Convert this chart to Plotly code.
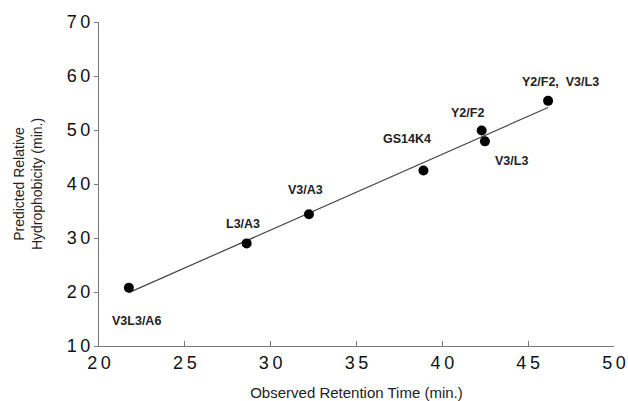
import numpy as np
import plotly.graph_objects as go

# Data
peptides = ["V3L3/A6", "L3/A3", "V3/A3", "GS14K4", "Y2/F2", "V3/L3", "Y2/F2,  V3/L3"]
observed_time = [21.74, 28.6, 32.23, 38.9, 42.29, 42.48, 46.16]
predicted_hydro = [20.8, 29.0, 34.4, 42.5, 49.9, 47.9, 55.4]
x_ticks = [20, 25, 30, 35, 40, 45, 50]
y_ticks = [10, 20, 30, 40, 50, 60, 70]

# label pixel offsets (style)
label_dx = [8, -4, -3, -16, -14, 27, 12]
label_dy = [-33, 19, 24, 32, 18, -20, 19]

x = np.array(observed_time)
y = np.array(predicted_hydro)
slope, intercept = np.polyfit(x, y, 1)
fit_x = np.array([x.min(), x.max()])
fit_y = slope * fit_x + intercept

FONT = "Liberation Sans, Arial, Helvetica, sans-serif"
SP = "\u2009"

fig = go.Figure()
fig.add_trace(go.Scatter(x=fit_x, y=fit_y, mode="lines",
                         line=dict(color="#444444", width=1.2),
                         showlegend=False, hoverinfo="skip"))
fig.add_trace(go.Scatter(x=x, y=y, mode="markers",
                         marker=dict(color="black", size=10),
                         showlegend=False))

for name, xi, yi, dx, dy in zip(peptides, observed_time, predicted_hydro, label_dx, label_dy):
    fig.add_annotation(x=xi, y=yi, text=name, showarrow=False,
                       xshift=dx, yshift=dy,
                       font=dict(family=FONT, size=12.5, color="#222222", weight="bold"))

fig.update_layout(
    width=628, height=401,
    margin=dict(l=99, r=14, t=22, b=55),
    paper_bgcolor="white", plot_bgcolor="white",
    font=dict(family=FONT, color="#111111"),
)
fig.update_xaxes(range=[20, 50], tickvals=x_ticks, ticktext=[SP.join(str(v)) for v in x_ticks],
                 automargin=False,
                 showgrid=False, zeroline=False,
                 showline=True, linecolor="#777777", linewidth=1.2,
                 ticks="inside", ticklen=5, tickcolor="#777777",
                 tickfont=dict(size=18, family=FONT, color="#111111"),
                 title=dict(text="Observed Retention Time (min.)",
                            font=dict(size=15, family=FONT, color="#222222"),
                            standoff=18))
fig.update_yaxes(range=[10, 70], tickvals=y_ticks, ticktext=[SP.join(str(v)) for v in y_ticks],
                 automargin=False,
                 showgrid=False, zeroline=False,
                 showline=True, linecolor="#777777", linewidth=1.2,
                 ticks="outside", ticklen=4, tickcolor="#777777",
                 tickfont=dict(size=18, family=FONT, color="#111111"),
                 title=dict(text="Predicted Relative<br>Hydrophobicity (min.)",
                            font=dict(size=14, family=FONT, color="#222222"),
                            standoff=20))

fig.write_html("out.html")
